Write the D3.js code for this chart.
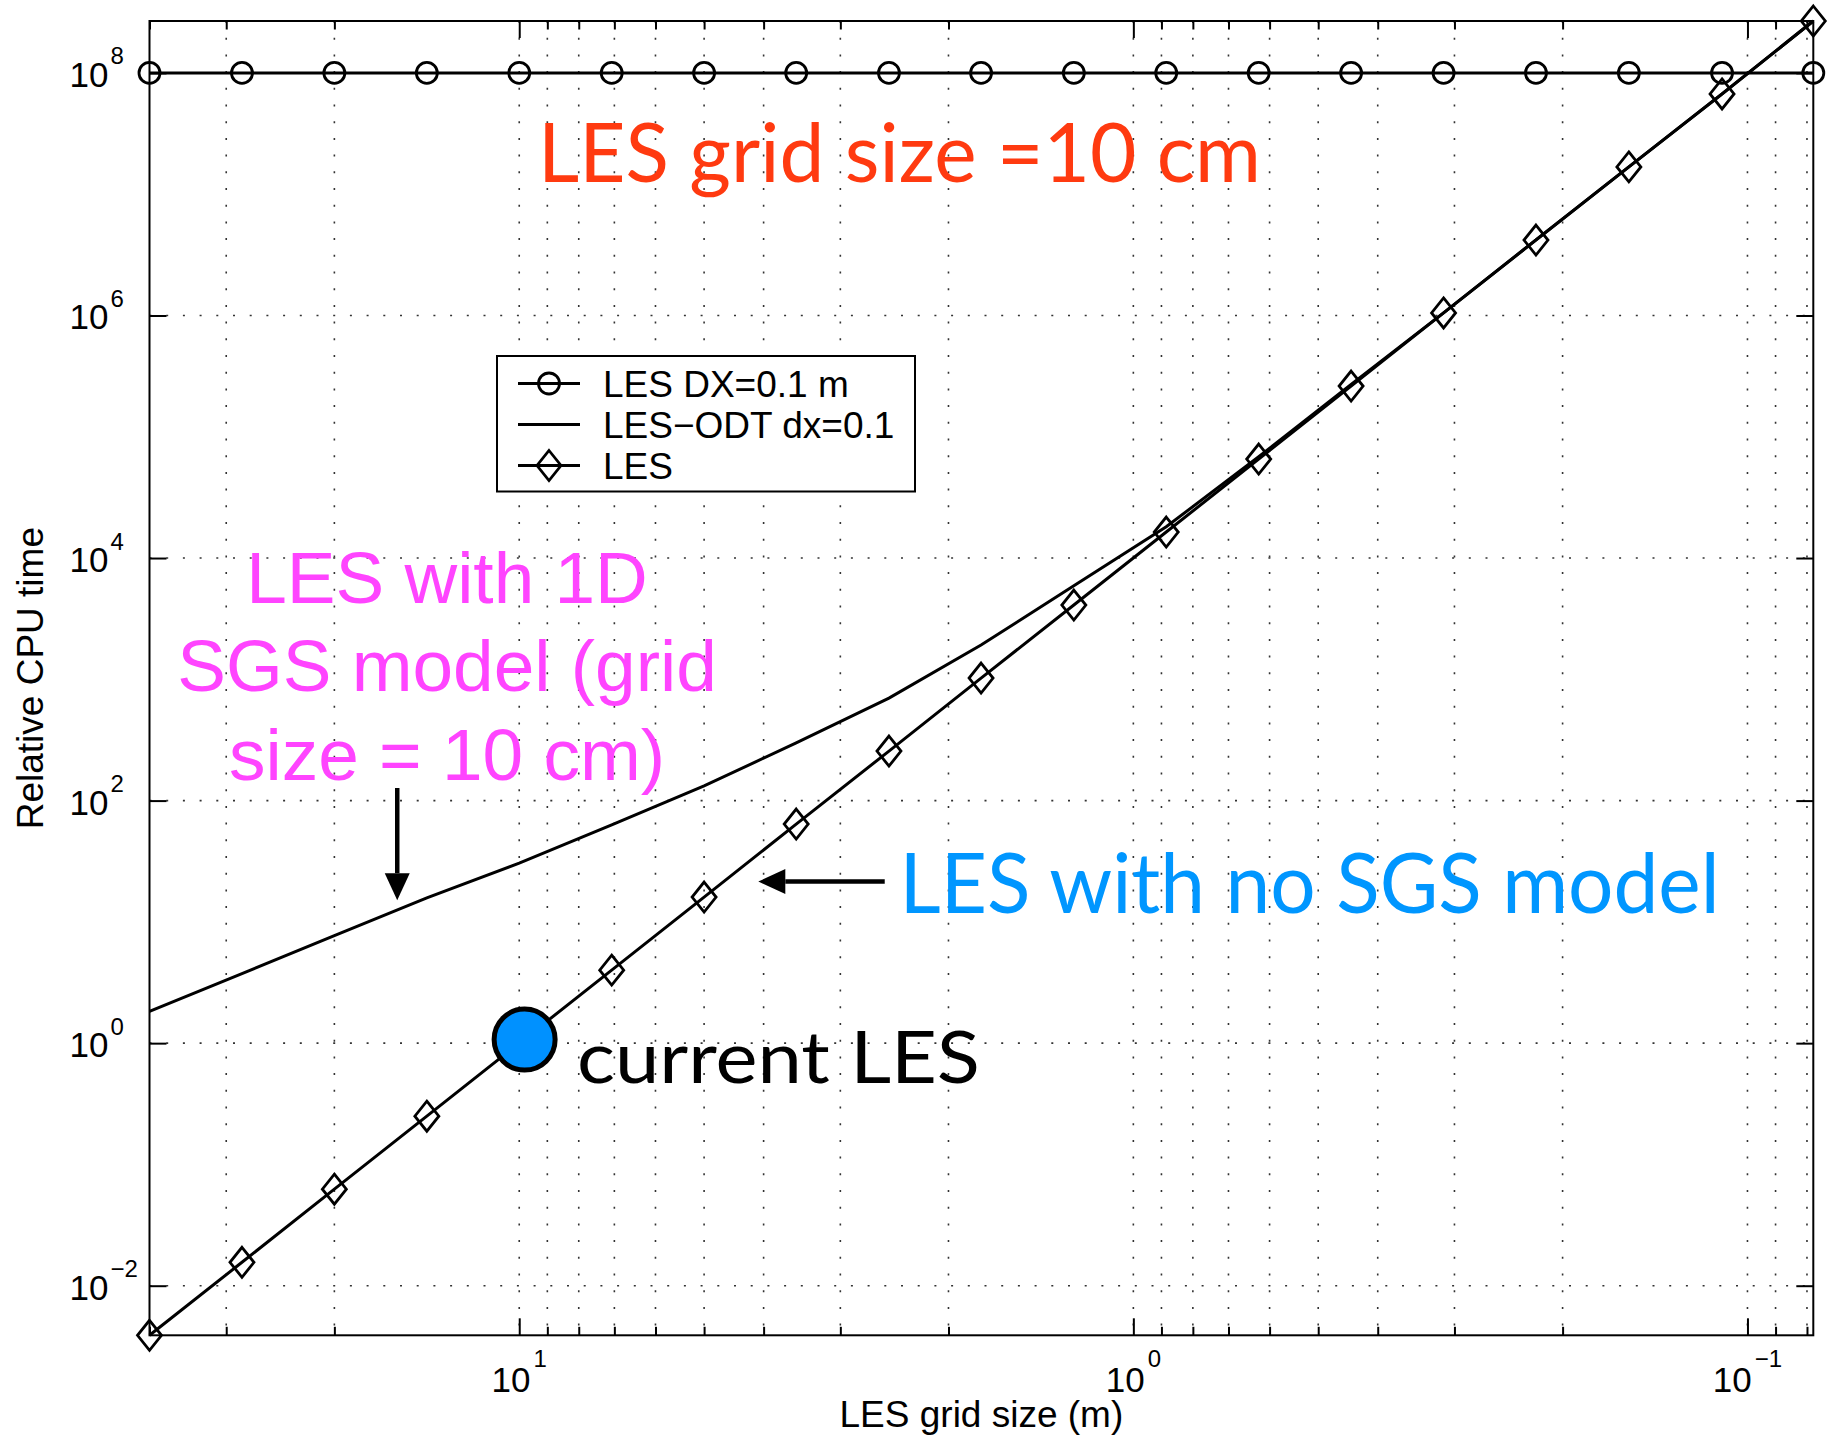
<!DOCTYPE html>
<html>
<head>
<meta charset="utf-8">
<script src="https://cdn.jsdelivr.net/npm/d3@7/dist/d3.min.js"></script>
<style>
body { margin: 0; background: #fff; }
text { font-family: "Liberation Sans", Arial, Helvetica, sans-serif; fill: #000; }
.note { font-family: Lato, "Open Sans", sans-serif; }
</style>
</head>
<body>
<div id="chart"></div>
<script>
// LES grid sizes (m), one run per sqrt(2) refinement
var gridSize = [40, 28.28, 20, 14.14, 10, 7.07, 5, 3.54, 2.5, 1.77, 1.25, 0.884, 0.625, 0.442, 0.3125, 0.221, 0.156, 0.11, 0.078125];
// relative CPU time for each series
var lesDx = [1e8, 1e8, 1e8, 1e8, 1e8, 1e8, 1e8, 1e8, 1e8, 1e8, 1e8, 1e8, 1e8, 1e8, 1e8, 1e8, 1e8, 1e8, 1e8];
var lesOdt = [1.83, 3.75, 7.7, 15.8, 30.5, 63, 132, 299, 700, 1920, 5900, 18100, 68500, 2.7e5, 1.05e6, 4.2e6, 1.68e7, 6.7e7, 2.68e8];
var les = [0.0039, 0.0156, 0.0625, 0.25, 1, 4, 16, 64, 256, 1024, 4096, 16384, 65536, 2.62e5, 1.05e6, 4.19e6, 1.68e7, 6.71e7, 2.68e8];
var seriesNames = ["LES DX=0.1 m", "LES\u2212ODT dx=0.1", "LES"];
var yTickExp = [-2, 0, 2, 4, 6, 8];
var xTickExp = [1, 0, -1];
var currentLes = [9.8, 1.07];

drawChart();

function drawChart(){
    var margin = {top: 21, right: 29.7, bottom: 111.7, left: 149.5},
    width = 1843 - margin.left - margin.right,
    height = 1447 - margin.top - margin.bottom;

    var x = d3.scaleLog()
            .domain([d3.max(gridSize), d3.min(gridSize)])
            .range([0, width]);

    var y = d3.scaleLog()
            .domain(d3.extent(les))
            .range([height, 0]);

    var root = d3.select("#chart")
                .append("svg")
                .attr("width", 1843)
                .attr("height", 1447);

    var svg = root.append("g")
                .attr("transform", "translate(" + margin.left + "," + margin.top + ")");

    var isMajor = function(v){ var l = Math.log10(v); return Math.abs(l - Math.round(l)) < 1e-9; };
    var xAll = x.ticks();
    var xMajor = xAll.filter(isMajor);
    var xMinor = xAll.filter(function(v){ return !isMajor(v); });
    var yTicks = yTickExp.map(function(e){ return Math.pow(10, e); });

    // dotted grid
    var dots = "2 14.7";
    svg.selectAll(".vgrid")
        .data(xAll.filter(function(v){ return v < 39; }))
        .enter().append("line")
        .attr("x1", d => x(d)).attr("x2", d => x(d))
        .attr("y1", 0).attr("y2", height)
        .attr("stroke", "#333").attr("stroke-width", 1.6)
        .attr("stroke-dasharray", dots);
    svg.selectAll(".hgrid")
        .data(yTicks)
        .enter().append("line")
        .attr("x1", 0).attr("x2", width)
        .attr("y1", d => y(d)).attr("y2", d => y(d))
        .attr("stroke", "#333").attr("stroke-width", 1.6)
        .attr("stroke-dasharray", dots);

    // inward ticks on all four sides
    function ticks(g){
        g.select(".domain").remove();
        g.selectAll("line").attr("stroke", "#000").attr("stroke-width", 2);
    }
    svg.append("g").attr("transform", "translate(0," + height + ")")
        .call(d3.axisBottom(x).tickValues(xMinor).tickSize(-8.5).tickFormat(""))
        .call(ticks);
    svg.append("g").attr("transform", "translate(0," + height + ")")
        .call(d3.axisBottom(x).tickValues(xMajor).tickSize(-17).tickFormat(""))
        .call(ticks);
    svg.append("g")
        .call(d3.axisTop(x).tickValues(xMinor).tickSize(-8.5).tickFormat(""))
        .call(ticks);
    svg.append("g")
        .call(d3.axisTop(x).tickValues(xMajor).tickSize(-17).tickFormat(""))
        .call(ticks);
    svg.append("g")
        .call(d3.axisLeft(y).tickValues(yTicks).tickSize(-17).tickFormat(""))
        .call(ticks);
    svg.append("g").attr("transform", "translate(" + width + ",0)")
        .call(d3.axisRight(y).tickValues(yTicks).tickSize(-17).tickFormat(""))
        .call(ticks);

    svg.append("rect")
        .attr("width", width).attr("height", height)
        .attr("fill", "none").attr("stroke", "#000").attr("stroke-width", 2);

    // tick labels 10^n
    var xl = svg.selectAll(".xlab").data(xTickExp).enter().append("text")
        .attr("x", d => x(Math.pow(10, d)))
        .attr("y", height + 56.4)
        .attr("text-anchor", "middle");
    xl.append("tspan").style("font-size", "35px").text("10");
    xl.append("tspan").style("font-size", "24px").attr("dy", -25).attr("dx", 3)
        .text(d => String(d).replace("-", "\u2212"));

    svg.selectAll(".ylab").data(yTickExp).enter().append("text")
        .attr("x", -41).attr("y", d => y(Math.pow(10, d)) + 14)
        .attr("text-anchor", "end").style("font-size", "35px").text("10");
    svg.selectAll(".yexp").data(yTickExp).enter().append("text")
        .attr("x", -39).attr("y", d => y(Math.pow(10, d)) - 8.5)
        .style("font-size", "24px")
        .text(d => String(d).replace("-", "\u2212"));

    // axis titles
    svg.append("text")
        .attr("x", width / 2).attr("y", height + 92)
        .attr("text-anchor", "middle").style("font-size", "37px")
        .text("LES grid size (m)");
    svg.append("text")
        .attr("transform", "translate(" + (43 - margin.left) + "," + (height / 2) + ") rotate(-90)")
        .attr("text-anchor", "middle").style("font-size", "37px")
        .text("Relative CPU time");

    // series
    var line = d3.line().x(d => x(d[0])).y(d => y(d[1]));
    var diamond = "M0,-15L12,0L0,15L-12,0Z";

    svg.append("path").datum(d3.zip(gridSize, lesDx)).attr("d", line)
        .attr("fill", "none").attr("stroke", "#000").attr("stroke-width", 3);
    svg.append("path").datum(d3.zip(gridSize, lesOdt)).attr("d", line)
        .attr("fill", "none").attr("stroke", "#000").attr("stroke-width", 3);
    svg.append("path").datum(d3.zip(gridSize, les)).attr("d", line)
        .attr("fill", "none").attr("stroke", "#000").attr("stroke-width", 3);

    svg.selectAll(".circ").data(d3.zip(gridSize, lesDx)).enter().append("circle")
        .attr("cx", d => x(d[0])).attr("cy", d => y(d[1])).attr("r", 10.5)
        .attr("fill", "none").attr("stroke", "#000").attr("stroke-width", 2.8);
    svg.selectAll(".diam").data(d3.zip(gridSize, les)).enter().append("path")
        .attr("transform", d => "translate(" + x(d[0]) + "," + y(d[1]) + ")")
        .attr("d", diamond)
        .attr("fill", "none").attr("stroke", "#000").attr("stroke-width", 2.8);

    // legend
    var lg = root.append("g").attr("transform", "translate(497,356)");
    lg.append("rect").attr("width", 418).attr("height", 135.5)
        .attr("fill", "#fff").attr("stroke", "#000").attr("stroke-width", 2);
    var rows = lg.selectAll(".row").data(seriesNames).enter().append("g")
        .attr("transform", (d, i) => "translate(0," + (27.5 + i * 41) + ")");
    rows.append("line").attr("x1", 21).attr("x2", 83)
        .attr("stroke", "#000").attr("stroke-width", 3);
    rows.append("text").attr("x", 106).attr("y", 13.5)
        .style("font-size", "37px").text(d => d);
    rows.filter((d, i) => i == 0).append("circle").attr("cx", 52).attr("r", 10.5)
        .attr("fill", "none").attr("stroke", "#000").attr("stroke-width", 2.8);
    rows.filter((d, i) => i == 2).append("path").attr("transform", "translate(52,0)")
        .attr("d", diamond).attr("fill", "none").attr("stroke", "#000").attr("stroke-width", 2.8);

    // annotations
    svg.append("circle")
        .attr("cx", x(currentLes[0])).attr("cy", y(currentLes[1])).attr("r", 30.5)
        .attr("fill", "#0091ff").attr("stroke", "#000").attr("stroke-width", 5);

    function arrow(x0, y0, x1, y1){
        var p0 = [x(x0), y(y0)], p1 = [x(x1), y(y1)];
        var ang = Math.atan2(p1[1] - p0[1], p1[0] - p0[0]);
        var hl = 27, hw = 12.5;
        var bx = p1[0] - hl * Math.cos(ang), by = p1[1] - hl * Math.sin(ang);
        svg.append("line").attr("x1", p0[0]).attr("y1", p0[1]).attr("x2", bx).attr("y2", by)
            .attr("stroke", "#000").attr("stroke-width", 4.5);
        svg.append("path")
            .attr("d", "M" + p1[0] + "," + p1[1] +
                "L" + (bx + hw * Math.sin(ang)) + "," + (by - hw * Math.cos(ang)) +
                "L" + (bx - hw * Math.sin(ang)) + "," + (by + hw * Math.cos(ang)) + "Z")
            .attr("fill", "#000");
    }
    arrow(15.8, 127, 15.8, 15.1);
    arrow(2.54, 21.5, 4.08, 21.5);

    root.append("text").attr("class", "note")
        .attr("x", 538).attr("y", 181.7)
        .attr("textLength", 723).attr("lengthAdjust", "spacingAndGlyphs")
        .style("font-size", "81px").style("fill", "#ff3a10")
        .text("LES grid size =10 cm");

    root.append("text")
        .attr("x", 447).attr("y", 602.7).attr("text-anchor", "middle")
        .style("font-size", "73px").style("fill", "#ff44ff")
        .selectAll("tspan")
        .data(["LES with 1D", "SGS model (grid", "size = 10 cm)"])
        .enter().append("tspan")
        .attr("x", 447).attr("dy", (d, i) => i ? 88.4 : 0)
        .text(d => d);

    root.append("text").attr("class", "note")
        .attr("x", 899.6).attr("y", 913.3)
        .attr("textLength", 820).attr("lengthAdjust", "spacingAndGlyphs")
        .style("font-size", "83px").style("fill", "#0096ff")
        .text("LES with no SGS model");

    root.append("text").attr("class", "note")
        .attr("x", 577).attr("y", 1083.3)
        .attr("textLength", 403).attr("lengthAdjust", "spacingAndGlyphs")
        .style("font-size", "72px").style("fill", "#000")
        .text("current LES");
}
</script>
</body>
</html>
